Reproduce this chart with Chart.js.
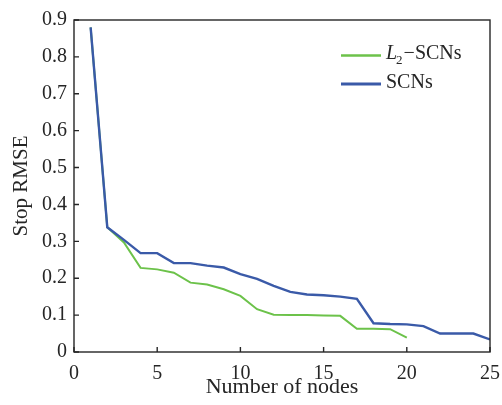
<!DOCTYPE html>
<html>
<head>
<meta charset="utf-8">
<script src="https://cdn.jsdelivr.net/npm/chart.js@4.4.1/dist/chart.umd.min.js"></script>
<style>
html, body { margin: 0; padding: 0; background: #fff; }
</style>
</head>
<body>
<canvas id="rmseChart" width="502" height="405"></canvas>
<script>
const nodes = [1, 2, 3, 4, 5, 6, 7, 8, 9, 10, 11, 12, 13, 14, 15, 16, 17, 18, 19, 20, 21, 22, 23, 24, 25];
const rmseL2 = [0.88, 0.338, 0.297, 0.228, 0.224, 0.215, 0.188, 0.183, 0.17, 0.152,
                0.116, 0.101, 0.1, 0.1, 0.099, 0.098, 0.063, 0.063, 0.062, 0.039];
const rmseSCN = [0.88, 0.338, 0.304, 0.268, 0.268, 0.241, 0.241, 0.234, 0.229, 0.211,
                 0.198, 0.179, 0.163, 0.156, 0.154, 0.15, 0.144, 0.078, 0.076, 0.075,
                 0.07, 0.05, 0.05, 0.05, 0.034];
const xTicks = [0, 5, 10, 15, 20, 25];
const yTicks = [0, 0.1, 0.2, 0.3, 0.4, 0.5, 0.6, 0.7, 0.8, 0.9];
const seriesNames = ['L2\u2212SCNs', 'SCNs'];
const xTitle = 'Number of nodes';
const yTitle = 'Stop RMSE';

const serif = "'Liberation Serif', 'Times New Roman', serif";
const ink = '#262626';
const green = '#6cc24a';
const blue = '#3a5aa8';

function points(ys) {
    return ys.map((y, i) => ({ x: nodes[i], y: y }));
}

// frame, inward ticks, axis titles and the in-plot legend
const decorations = {
    id: 'decorations',
    afterDraw(chart) {
        const ctx = chart.ctx;
        const area = chart.chartArea;
        const xs = chart.scales.x;
        const ys = chart.scales.y;
        ctx.save();
        ctx.strokeStyle = ink;
        ctx.lineWidth = 1.4;
        ctx.strokeRect(area.left, area.top, area.right - area.left, area.bottom - area.top);
        ctx.beginPath();
        xTicks.forEach(v => {
            const px = xs.getPixelForValue(v);
            ctx.moveTo(px, area.bottom);
            ctx.lineTo(px, area.bottom - 5);
        });
        yTicks.forEach(v => {
            const py = ys.getPixelForValue(v);
            ctx.moveTo(area.left, py);
            ctx.lineTo(area.left + 5, py);
        });
        ctx.stroke();

        ctx.fillStyle = ink;
        ctx.font = '22px ' + serif;
        ctx.textAlign = 'center';
        ctx.textBaseline = 'alphabetic';
        ctx.fillText(xTitle, (area.left + area.right) / 2, 393);

        ctx.save();
        ctx.translate(26.5, (area.top + area.bottom) / 2);
        ctx.rotate(-Math.PI / 2);
        ctx.font = '21px ' + serif;
        ctx.fillText(yTitle, 0, 0);
        ctx.restore();

        // legend
        const rows = [55.5, 84];
        chart.data.datasets.forEach((ds, i) => {
            const y = rows[i];
            ctx.strokeStyle = ds.borderColor;
            ctx.lineWidth = ds.borderWidth + 0.5;
            ctx.beginPath();
            ctx.moveTo(341, y);
            ctx.lineTo(381, y);
            ctx.stroke();
            ctx.textAlign = 'left';
            let x = 386;
            const base = y + 3.5;
            if (i === 0) {
                ctx.font = 'italic 20px ' + serif;
                ctx.fillText('L', x, base);
                x += ctx.measureText('L').width;
                ctx.font = '13px ' + serif;
                ctx.fillText('2', x - 1, base + 5);
                x += ctx.measureText('2').width;
                ctx.font = '20px ' + serif;
                ctx.fillText(ds.label.slice(2), x, base);
            } else {
                ctx.font = '20px ' + serif;
                ctx.fillText(ds.label, x, base);
            }
        });
        ctx.restore();
    }
};

const chart = new Chart(document.getElementById('rmseChart').getContext('2d'), {
    type: 'line',
    data: {
        datasets: [{
            label: seriesNames[0],
            data: points(rmseL2),
            borderColor: green,
            borderWidth: 2,
            pointRadius: 0,
            tension: 0,
            order: 2
        }, {
            label: seriesNames[1],
            data: points(rmseSCN),
            borderColor: blue,
            borderWidth: 2.4,
            pointRadius: 0,
            tension: 0,
            order: 1
        }]
    },
    options: {
        responsive: false,
        animation: false,
        layout: { padding: { top: 20, right: 12, left: 0, bottom: 0 } },
        plugins: {
            legend: { display: false },
            tooltip: { enabled: false }
        },
        scales: {
            x: {
                type: 'linear',
                min: 0,
                max: 25,
                afterBuildTicks: s => { s.ticks = xTicks.map(v => ({ value: v })); },
                afterFit: s => { s.height = 53; s.paddingLeft = 0; s.paddingRight = 0; },
                grid: { display: false, drawTicks: false },
                border: { display: false },
                ticks: { color: ink, font: { family: serif, size: 20 }, padding: 10, maxRotation: 0 }
            },
            y: {
                min: 0,
                max: 0.9,
                afterBuildTicks: s => { s.ticks = yTicks.map(v => ({ value: v })); },
                afterFit: s => { s.width = 74; s.paddingTop = 0; s.paddingBottom = 0; },
                grid: { display: false, drawTicks: false },
                border: { display: false },
                ticks: {
                    color: ink,
                    font: { family: serif, size: 20 },
                    padding: 7,
                    callback: v => v === 0 ? '0' : v.toFixed(1)
                }
            }
        }
    },
    plugins: [decorations]
});
</script>
</body>
</html>
